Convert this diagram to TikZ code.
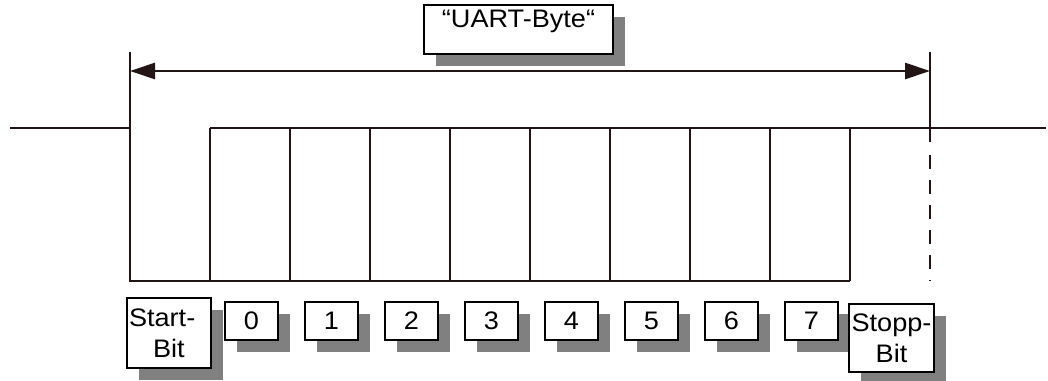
\documentclass[tikz,border=0pt]{standalone}
\usepackage{fontspec}
\setmainfont{Liberation Sans}[FakeStretch=1.07]
\usetikzlibrary{arrows.meta,shadows}
\definecolor{sig}{RGB}{35,20,22}
\definecolor{shade}{RGB}{128,128,128}
\begin{document}
\begin{tikzpicture}[x=0.75pt,y=-0.75pt,
  sigline/.style={draw=sig,line width=2pt},
  boxbase/.style={draw=black,fill=white,line width=1.2pt,inner sep=0pt,
    font=\fontsize{19}{23.25}\selectfont,
    drop shadow={shadow xshift=9pt,shadow yshift=-9pt,fill=shade,opacity=1}},
  bitbox/.style={boxbase,minimum width=39.75pt,minimum height=28.5pt},
  dim/.style={draw=sig,line width=2pt,{Triangle[length=18.75pt,width=12pt]}-{Triangle[length=18.75pt,width=12pt]}}
]
\useasboundingbox (0,0) rectangle (1048,381);

% signal coordinates
\coordinate (a0) at (10,128);
\coordinate (a1) at (130,128);
\coordinate (a2) at (130,281);
\coordinate (bend) at (850,281);
\coordinate (rend) at (1046,128);
\foreach \i in {0,...,8} {
  \coordinate (t\i) at ({210+80*\i},128);
  \coordinate (b\i) at ({210+80*\i},281);
}
\draw[sigline] (a0) -- (a1) -- (a2) -- (bend);
\draw[sigline] (t0) -- (rend);
\foreach \i in {0,...,8} { \draw[sigline] (t\i) -- (b\i); }

% markers
\coordinate (ml) at (130,52);
\coordinate (mr) at (930,52);
\coordinate (mrs) at (930,142);
\coordinate (mrd) at (930,155);
\coordinate (mre) at (930,281);
\draw[sigline] (ml) -- (a1);
\draw[sigline] (mr) -- (mrs);
\draw[sigline,dash pattern=on 10.5pt off 8.25pt] (mrd) -- (mre);
\coordinate (al) at (130,71);
\coordinate (ar) at (930,71);
\draw[dim] (al) -- (ar);

% labels
\node[boxbase,minimum width=141.75pt,text height=17.25pt,text depth=19.5pt] (uart) at (518.5,29.5) {“UART-Byte“};
\node[boxbase,minimum width=63pt,minimum height=52.5pt,text width=60pt,align=left] (start) at (169,333) {Start-\\\hspace*{18pt}Bit};
\foreach \i in {0,...,7} {
  \node[bitbox] (bit\i) at ({251.5+80*\i},321) {\i};
}
\node[boxbase,minimum width=63.75pt,minimum height=51pt,align=center] (stopp) at (891.5,338) {Stopp-\\Bit};
\end{tikzpicture}
\end{document}
